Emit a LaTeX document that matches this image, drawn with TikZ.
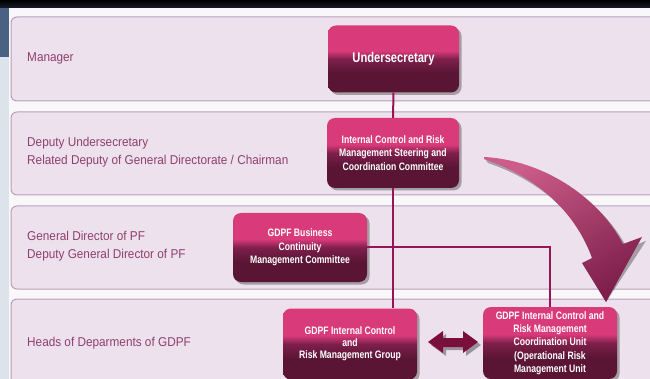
\documentclass[tikz,border=0pt]{standalone}
\usepackage{fontspec}
\setmainfont{Liberation Sans}
\newfontfamily\boxfont{Liberation Sans}[FakeStretch=0.8]
\newfontfamily\labfont{Liberation Sans}[FakeStretch=0.92]
\usetikzlibrary{shadows}

\definecolor{pagebg}{HTML}{FAF7FA}
\definecolor{rowfill}{HTML}{EDE1EE}
\definecolor{rowline}{HTML}{B8A0B8}
\definecolor{labcol}{HTML}{8E3F6C}
\definecolor{linkcol}{HTML}{961555}
\definecolor{boxlight}{HTML}{EE76A4}
\definecolor{boxpink}{HTML}{D93A7A}
\definecolor{boxmid}{HTML}{7E1F4C}
\definecolor{boxdark}{HTML}{5A1535}
\definecolor{arrowdark}{HTML}{7A0F3C}
\definecolor{bandcol}{HTML}{161C2A}
\definecolor{stripdark}{HTML}{4A6282}
\definecolor{striplight}{HTML}{DCE3EB}

\pgfdeclareverticalshading{glossbox}{100bp}{%
  color(0bp)=(boxdark); color(40bp)=(boxdark); color(50bp)=(boxmid);
  color(56bp)=(boxpink); color(85bp)=(boxpink); color(100bp)=(boxlight)}

\tikzset{
  rowpanel/.style={fill=rowfill, draw=rowline, line width=1pt, rounded corners=6pt},
  rowlabel/.style={anchor=west, align=left, text=labcol,
    font=\labfont\fontsize{12.8}{18}\selectfont, inner sep=0pt},
  orgbox/.style={rounded corners=8pt, shading=glossbox, minimum width=132pt,
    text=white, align=center, inner sep=2pt,
    font=\boxfont\bfseries\fontsize{10.8}{13.5}\selectfont,
    drop shadow={shadow xshift=2.5pt, shadow yshift=-2.5pt, opacity=0.45, fill=black!70}},
  link/.style={draw=linkcol, line width=2pt},
}

\begin{document}
\begin{tikzpicture}[x=1pt, y=-1pt]
\useasboundingbox (0,0) rectangle (650,379);
\clip (0,0) rectangle (650,379);

% page background, top band and left strip
\fill[pagebg] (0,0) rectangle (650,379);
\shade[top color=black, bottom color=bandcol] (0,0) rectangle (650,8);
\fill[striplight] (0,8) rectangle (9,379);
\fill[stripdark] (0,8) rectangle (9,57);

% level rows
\draw[rowpanel] (11,17) rectangle (670,101);
\draw[rowpanel] (11,112) rectangle (670,195);
\draw[rowpanel] (11,206) rectangle (670,289);
\draw[rowpanel] (11,299) rectangle (670,400);

% level labels
\node[rowlabel] (lab1) at (27,58) {Manager};
\node[rowlabel] (lab2) at (27,152) {Deputy Undersecretary\\Related Deputy of General Directorate / Chairman};
\node[rowlabel] (lab3) at (27,246) {General Director of PF\\Deputy General Director of PF};
\node[rowlabel] (lab4) at (27,343) {Heads of Deparments of GDPF};

% organisation boxes
\node[orgbox, minimum width=131pt, minimum height=67pt,
      font=\boxfont\bfseries\fontsize{14}{16}\selectfont] (under) at (393.5,59) {Undersecretary};
\node[orgbox, minimum height=70pt] (steer) at (393,153)
  {Internal Control and Risk\\Management Steering and\\Coordination Committee};
\node[orgbox, minimum width=134pt, minimum height=69pt] (bcm) at (300,247.5)
  {GDPF Business\\Continuity\\Management Committee};
\node[orgbox, minimum width=134pt, minimum height=71pt,
      font=\boxfont\bfseries\fontsize{10.8}{11.8}\selectfont] (group) at (350,344)
  {GDPF Internal Control\\and\\Risk Management Group};
\node[orgbox, minimum width=134pt, minimum height=72pt,
      font=\boxfont\bfseries\fontsize{10.8}{13.3}\selectfont] (unit) at (550,343)
  {GDPF Internal Control and\\Risk Management\\Coordination Unit\\(Operational Risk\\Management Unit};

% connectors
\draw[link] (under.south) -- (steer.north);
\draw[link] (steer.south) -- (steer.south |- group.north);
\draw[link] (bcm.east) -| (unit.north);

% two-way arrow between group and unit
\coordinate (dl) at (428,342);
\coordinate (dr) at (478,342);
\fill[black, opacity=0.35] ([shift={(3,3)}]dl) -- ++(15,-11) -- ++(0,7) -- ++(20,0) -- ++(0,-7)
  -- ([shift={(3,3)}]dr) -- ++(-15,11) -- ++(0,-6) -- ++(-20,0) -- ++(0,6) -- cycle;
\fill[arrowdark] (dl) -- ++(15,-11) -- ++(0,7) -- ++(20,0) -- ++(0,-7)
  -- (dr) -- ++(-15,11) -- ++(0,-6) -- ++(-20,0) -- ++(0,6) -- cycle;

% large curved arrow
\coordinate (cs) at (484,157);
\coordinate (ct) at (606,302);
\fill[black, opacity=0.3, shift={(4,4)}]
  (cs) .. controls (542,160) and (598,196) .. (623,244)
  -- (642,237) -- (ct) -- (582,263) -- (592,258)
  .. controls (576,214) and (540,178) .. (484,159) -- cycle;
\shade[top color=boxlight!70!boxmid, bottom color=boxmid, shading angle=30]
  (cs) .. controls (542,160) and (598,196) .. (623,244)
  -- (642,237) -- (ct) -- (582,263) -- (592,258)
  .. controls (576,214) and (540,178) .. (484,159) -- cycle;
\end{tikzpicture}
\end{document}
